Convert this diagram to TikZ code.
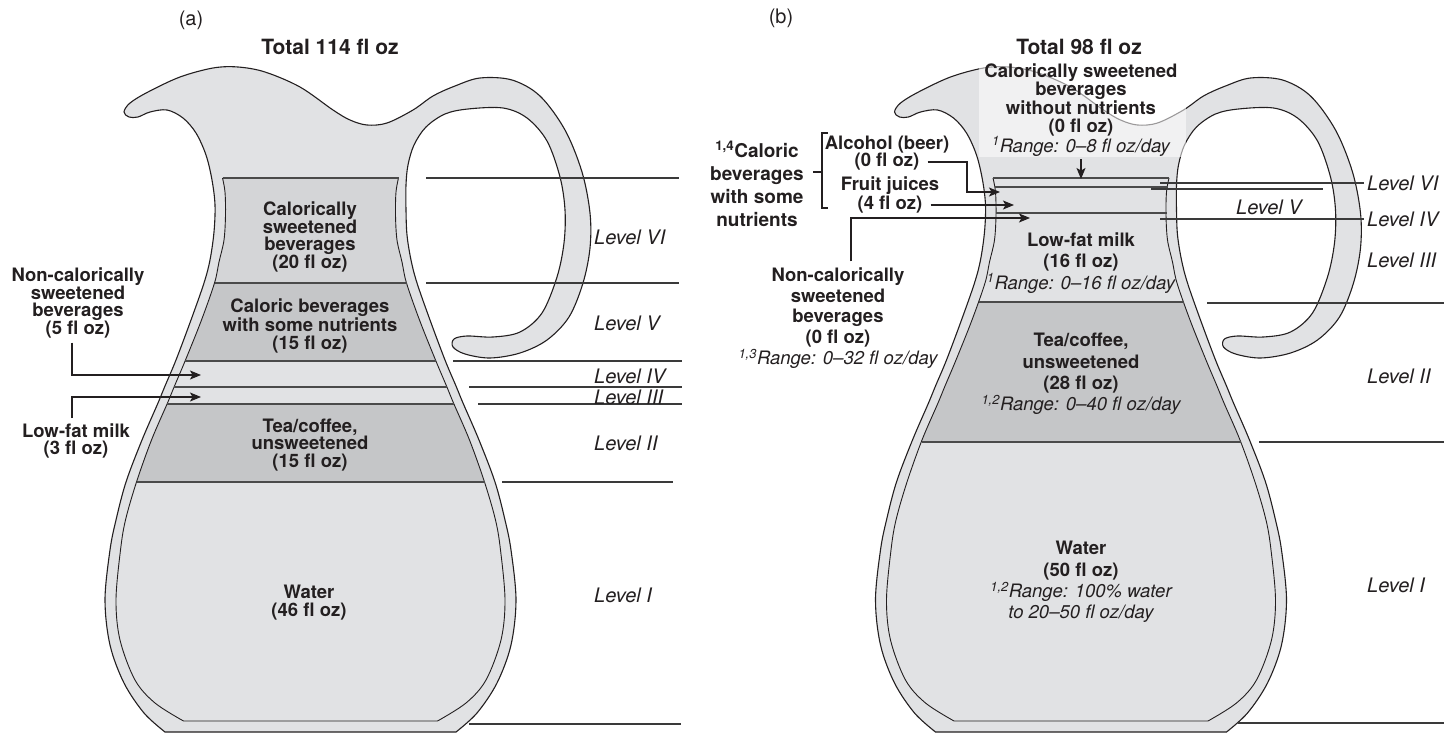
\documentclass[tikz,border=0pt]{standalone}
\usepackage{fontspec}
\setmainfont{TeX Gyre Heros}
\usetikzlibrary{arrows.meta}

\definecolor{wallgray}{HTML}{E1E2E4}
\definecolor{midgray}{HTML}{D4D5D7}
\definecolor{darkfill}{HTML}{C5C6C8}
\definecolor{sepgray}{HTML}{4A4A4A}
\definecolor{levelgray}{HTML}{3A3A3A}
\definecolor{inkblack}{HTML}{231F20}

\begin{document}
\begin{tikzpicture}[x=1pt,y=-1pt,
  % outer silhouette of the pitcher: body, spout and handle
  jug outer/.style={insert path={plot[smooth,tension=0.55] coordinates{
    (165,732) (144,713) (124,683) (110,645) (105,600) (110,550) (116,520)
    (126,482) (142,440) (158,403) (165,386) (176,360) (191,320) (204,283)
    (210,260) (214,232) (215,205) (212,180) (206,155) (196,133) (183,118)
    (167,110) (150,112) (138,117) (129,117) (124,112) (130,103) (148,92)
    (180,77) (213,68) (238,67) (265,72) (300,87) (333,110) (350,120)
    (367,125) (387,123) (413,110) (433,96) (455,86) (480,78) (512,80)
    (540,96) (565,130) (582,172) (590,213) (590,248) (583,283) (569,317)
    (547,340) (520,353) (490,358) (465,354) (453,347) (454,339) (467,336)
    (493,337) (520,332) (542,313) (557,277) (564,243) (565,210) (560,177)
    (547,141) (527,118) (503,108) (468,109) (445,114) (426,127) (414,145)
    (408,165) (406,185) (406,210) (407,235) (411,260) (417,283) (430,320)
    (445,360) (456,386) (463,403) (479,440) (495,482) (505,520) (511,550)
    (516,600) (511,645) (497,683) (477,713) (456,732)} -- cycle}},
  % inner wall of the vessel, open at the liquid surface
  jug inner/.style={insert path={plot[smooth,tension=0.55] coordinates{
    (222.5,178) (225,192) (225.5,215) (224,240) (219,262) (214.5,283)
    (201.5,320) (185.5,360) (174.5,386) (167.5,403) (151.5,440) (136.5,482)
    (125.5,520) (120.5,550) (116,600) (120,640) (135,680) (155,703)
    (183.5,721)} -- plot[smooth,tension=0.55] coordinates{
    (437.5,721) (466,703) (486,680) (501,640) (505,600) (500.5,550)
    (495.5,520) (484.5,482) (469.5,440) (453.5,403) (446.5,386) (435.5,360)
    (419.5,320) (406.5,283) (402,262) (397,240) (395.5,215) (396,192)
    (398.5,178)}}},
  jugline/.style={draw=inkblack, line width=1.1pt},
  innerline/.style={draw=inkblack, line width=0.9pt},
  sep/.style={draw=sepgray, line width=1.5pt},
  lvline/.style={draw=levelgray, line width=1.3pt},
  arr/.style={draw=inkblack, line width=1.2pt, -{Stealth[length=11pt,width=9pt,inset=2.5pt]}},
  brk/.style={draw=inkblack, line width=1.1pt},
  lbl/.style={font=\fontsize{18.5}{17.8}\selectfont\bfseries, align=center, inner sep=0pt, text=inkblack},
  lblw/.style={font=\fontsize{18.5}{21.2}\selectfont\bfseries, align=center, inner sep=0pt, text=inkblack},
  lvl/.style={font=\fontsize{20}{22}\selectfont\itshape, anchor=west, inner sep=0pt, text=inkblack},
  tag/.style={font=\fontsize{20}{22}\selectfont, inner sep=0pt, text=inkblack},
  ttl/.style={font=\fontsize{21}{24}\selectfont\bfseries, inner sep=0pt, text=inkblack}
]
\useasboundingbox (0,0) rectangle (1444,733);

% ---------------- pitcher (a) ----------------
\filldraw[fill=wallgray, jugline, jug outer];
\begin{scope}
  \clip[jug inner] -- cycle;
  \fill[midgray] (60,178) rectangle (560,283);
  \fill[darkfill] (60,283) rectangle (560,361);
  \fill[darkfill] (60,404) rectangle (560,482);
\end{scope}
\draw[innerline, jug inner];
\draw[sep] (222.5,178) -- (398.5,178);
\draw[sep] (214.5,283) -- (406.5,283);
\draw[sep] (185,361) -- (436,361);
\draw[sep] (174,387) -- (447,387);
\draw[sep] (167,404) -- (454,404);
\draw[sep] (136.5,482) -- (484.5,482);

% level rules (a)
\draw[lvline] (426,178) -- (679,178);
\draw[lvline] (426,283) -- (679,283);
\draw[lvline] (453,361) -- (682,361);
\draw[lvline] (469,387) -- (682,387);
\draw[lvline] (478,404) -- (682,404);
\draw[lvline] (502,482) -- (673,482);
\draw[lvline] (469,724) -- (681,724);

\node[tag] (a-tag) at (191,20) {(a)};
\node[ttl] (a-total) at (330,47) {Total 114 fl oz};
\node[lbl] (a-l6) at (310,237) {Calorically\\sweetened\\beverages\\(20 fl oz)};
\node[lbl] (a-l5) at (310,326) {Caloric beverages\\with some nutrients\\(15 fl oz)};
\node[lbl] (a-l2) at (310,445) {Tea/coffee,\\unsweetened\\(15 fl oz)};
\node[lbl] (a-l1) at (309,603) {Water\\(46 fl oz)};
\node[lbl] (a-nc) at (78,303) {Non-calorically\\sweetened\\beverages\\(5 fl oz)};
\node[lbl] (a-lf) at (76,441) {Low-fat milk\\(3 fl oz)};

\node[lvl] (a-lv6) at (594,237) {Level VI};
\node[lvl] (a-lv5) at (594,323) {Level V};
\node[lvl] (a-lv4) at (594,376) {Level IV};
\node[lvl] (a-lv3) at (594,397) {Level III};
\node[lvl] (a-lv2) at (594,443) {Level II};
\node[lvl] (a-lv1) at (594,595) {Level I};

\coordinate (a-nc-tip) at (201,375);
\coordinate (a-lf-tip) at (201,397);
\draw[arr] ([xshift=-6pt,yshift=-4pt]a-nc.south) |- (a-nc-tip);
\draw[arr] ([xshift=-4pt,yshift=5pt]a-lf.north) |- (a-lf-tip);

% ---------------- pitcher (b) ----------------
\begin{scope}[xshift=770.5pt]
  \filldraw[fill=wallgray, jugline, jug outer];
  \begin{scope}
    \clip[jug inner] -- cycle;
    \fill[darkfill] (60,302) rectangle (560,442);
  \end{scope}
  \draw[innerline, jug inner];
  \draw[sep] (222.5,178) -- (398.5,178);
  \draw[sep] (224,187) -- (397,187);
  \draw[sep] (225,213) -- (396,213);
  \draw[sep] (208,302) -- (413,302);
  \draw[sep] (151,442) -- (470,442);
\end{scope}

% lightened panel behind the top label
\fill[white, opacity=0.55] (979,56) rectangle (1186,157);

% level rules (b)
\draw[lvline] (1160,183) -- (1364,183);
\draw[lvline] (1151,189) -- (1323,189);
\draw[lvline] (1160,219) -- (1364,219);
\draw[lvline] (1207,303) -- (1444,303);
\draw[lvline] (1259,442) -- (1444,442);
\draw[lvline] (1238,723) -- (1444,723);

\node[tag] (b-tag) at (781,18) {(b)};
\node[ttl] (b-total) at (1079,47) {Total 98 fl oz};
\node[lbl] (b-csb) at (1081,110) {Calorically sweetened\\beverages\\without nutrients\\(0 fl oz)\\{\mdseries\itshape \textsuperscript{1}Range: 0--8 fl oz/day}};
\node[lblw] (b-lf) at (1081,263) {Low-fat milk\\(16 fl oz)\\{\mdseries\itshape \textsuperscript{1}Range: 0--16 fl oz/day}};
\node[lblw] (b-tea) at (1081,374) {Tea/coffee,\\unsweetened\\(28 fl oz)\\{\mdseries\itshape \textsuperscript{1,2}Range: 0--40 fl oz/day}};
\node[lblw] (b-wat) at (1081,582) {Water\\(50 fl oz)\\{\mdseries\itshape \textsuperscript{1,2}Range: 100\% water}\\{\mdseries\itshape to 20--50 fl oz/day}};

\node[lbl, font=\fontsize{19}{23}\selectfont\bfseries] (b-cal) at (757,184) {\textsuperscript{1,4}Caloric\\beverages\\with some\\nutrients};
\node[lbl] (b-alc1) at (887,145) {Alcohol (beer)};
\node[lbl] (b-alc2) at (887,162) {(0 fl oz)};
\node[lbl] (b-fru1) at (890,186) {Fruit juices};
\node[lbl] (b-fru2) at (890,205) {(4 fl oz)};
\node[lblw, font=\fontsize{18.5}{20.8}\selectfont\bfseries] (b-nc) at (838,318) {Non-calorically\\sweetened\\beverages\\(0 fl oz)\\{\mdseries\itshape \textsuperscript{1,3}Range: 0--32 fl oz/day}};

\node[lvl] (b-lv6) at (1367,183) {Level VI};
\node[lvl] (b-lv5) at (1236,207) {Level V};
\node[lvl] (b-lv4) at (1367,219) {Level IV};
\node[lvl] (b-lv3) at (1367,260) {Level III};
\node[lvl] (b-lv2) at (1367,376) {Level II};
\node[lvl] (b-lv1) at (1367,585) {Level I};

% bracket grouping alcohol and fruit juices
\coordinate (brk-top) at (828,133);
\coordinate (brk-bot) at (828,208);
\coordinate (brk-mid) at (822,172);
\draw[brk] (brk-top) -- (brk-top -| brk-mid) -- (brk-bot -| brk-mid) -- (brk-bot);
\draw[brk] ([xshift=-9pt]brk-mid) -- (brk-mid);

% arrows into the thin layers of (b)
\coordinate (b-csb-tip) at (1081,179);
\coordinate (b-alc-tip) at (1000,192);
\coordinate (b-alc-bend) at (967,162);
\coordinate (b-fru-tip) at (1014,205);
\coordinate (b-nc-tip) at (1030,218);
\draw[arr] ([yshift=-3pt]b-csb.south) -- (b-csb-tip);
\draw[arr] ([xshift=8pt]b-alc2.east) -- (b-alc-bend) |- (b-alc-tip);
\draw[arr] ([xshift=8pt]b-fru2.east) -- (b-fru-tip);
\draw[arr] ([xshift=13pt,yshift=6pt]b-nc.north) |- (b-nc-tip);
\end{tikzpicture}
\end{document}
